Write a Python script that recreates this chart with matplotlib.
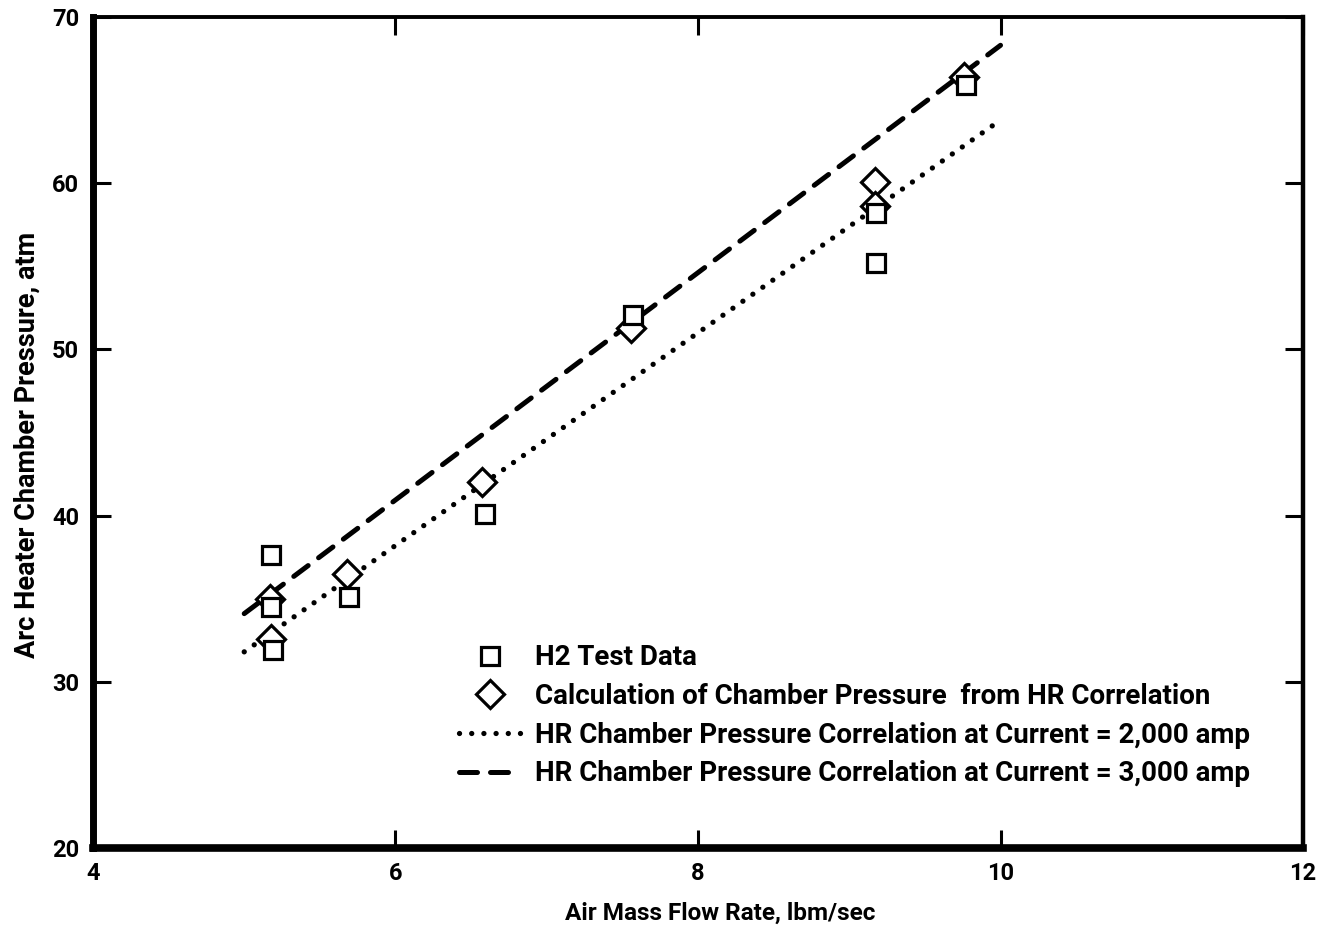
import matplotlib
matplotlib.use("Agg")
import numpy as np
import matplotlib.pyplot as plt

# H2 test data (squares)
test_flow = [5.18, 5.18, 5.19, 5.69, 6.59, 7.57, 9.18, 9.18, 9.77]
test_pres = [37.6, 34.5, 31.9, 35.1, 40.1, 52.1, 58.2, 55.2, 65.9]

# chamber pressure calculated from HR correlation (diamonds)
calc_flow = [5.17, 5.18, 5.68, 6.57, 7.56, 9.17, 9.17, 9.76]
calc_pres = [35.0, 32.6, 36.5, 42.0, 51.3, 60.1, 58.6, 66.4]

# HR correlation lines
corr_flow = [5.0, 10.0]
corr_2000 = [31.8, 63.8]
corr_3000 = [34.1, 68.3]

labels = ["H2 Test Data",
          "Calculation of Chamber Pressure  from HR Correlation",
          "HR Chamber Pressure Correlation at Current = 2,000 amp",
          "HR Chamber Pressure Correlation at Current = 3,000 amp"]

plt.rcParams['font.family'] = ['Roboto', 'DejaVu Sans']
plt.rcParams['font.weight'] = 'bold'

fig = plt.figure(figsize=(13.26, 9.31), dpi=100)
ax = fig.add_axes([0.0701, 0.0892, 0.9126, 0.8925])

l2, = ax.plot(corr_flow, corr_2000, color='black', lw=3.8,
              linestyle=(0, (0.01, 2.3)), dash_capstyle='round', zorder=2)
l3, = ax.plot(corr_flow, corr_3000, color='black', lw=3.6,
              linestyle=(0, (3.6, 2.6)), dash_capstyle='round', zorder=2)
dm, = ax.plot(calc_flow, calc_pres, linestyle='none', marker='D', markersize=14,
              markerfacecolor='white', markeredgecolor='black', markeredgewidth=2.3, zorder=3)
sq, = ax.plot(test_flow, test_pres, linestyle='none', marker='s', markersize=12.5,
              markerfacecolor='white', markeredgecolor='black', markeredgewidth=2.3, zorder=4)

ax.set_xlim(4, 12)
ax.set_ylim(20, 70)
ax.set_xticks([4, 6, 8, 10, 12])
ax.set_yticks([20, 30, 40, 50, 60, 70])
ax.tick_params(direction='in', length=13, width=2.2, top=True, right=True,
               labelsize=17, pad=10)
for t in ax.get_xticklabels() + ax.get_yticklabels():
    t.set_fontweight('bold')

ax.spines['left'].set_linewidth(5)
ax.spines['bottom'].set_linewidth(5.5)
ax.spines['top'].set_linewidth(2.8)
ax.spines['right'].set_linewidth(3.2)

ax.set_xlabel("Air Mass Flow Rate, lbm/sec", fontsize=17.5, fontweight='bold')
ax.set_ylabel("Arc Heater Chamber Pressure, atm", fontsize=19.5, fontweight='bold')
ax.xaxis.set_label_coords(0.518, -0.065)
ax.yaxis.set_label_coords(-0.043, 0.485)

ax.legend([sq, dm, l2, l3], labels, loc='upper left', bbox_to_anchor=(0.291, 0.2616),
          frameon=False, handlelength=2.2, handletextpad=0.55,
          labelspacing=0.42, borderpad=0, prop={'weight': 'bold', 'size': 20})

fig.savefig("out.png", dpi=100)
